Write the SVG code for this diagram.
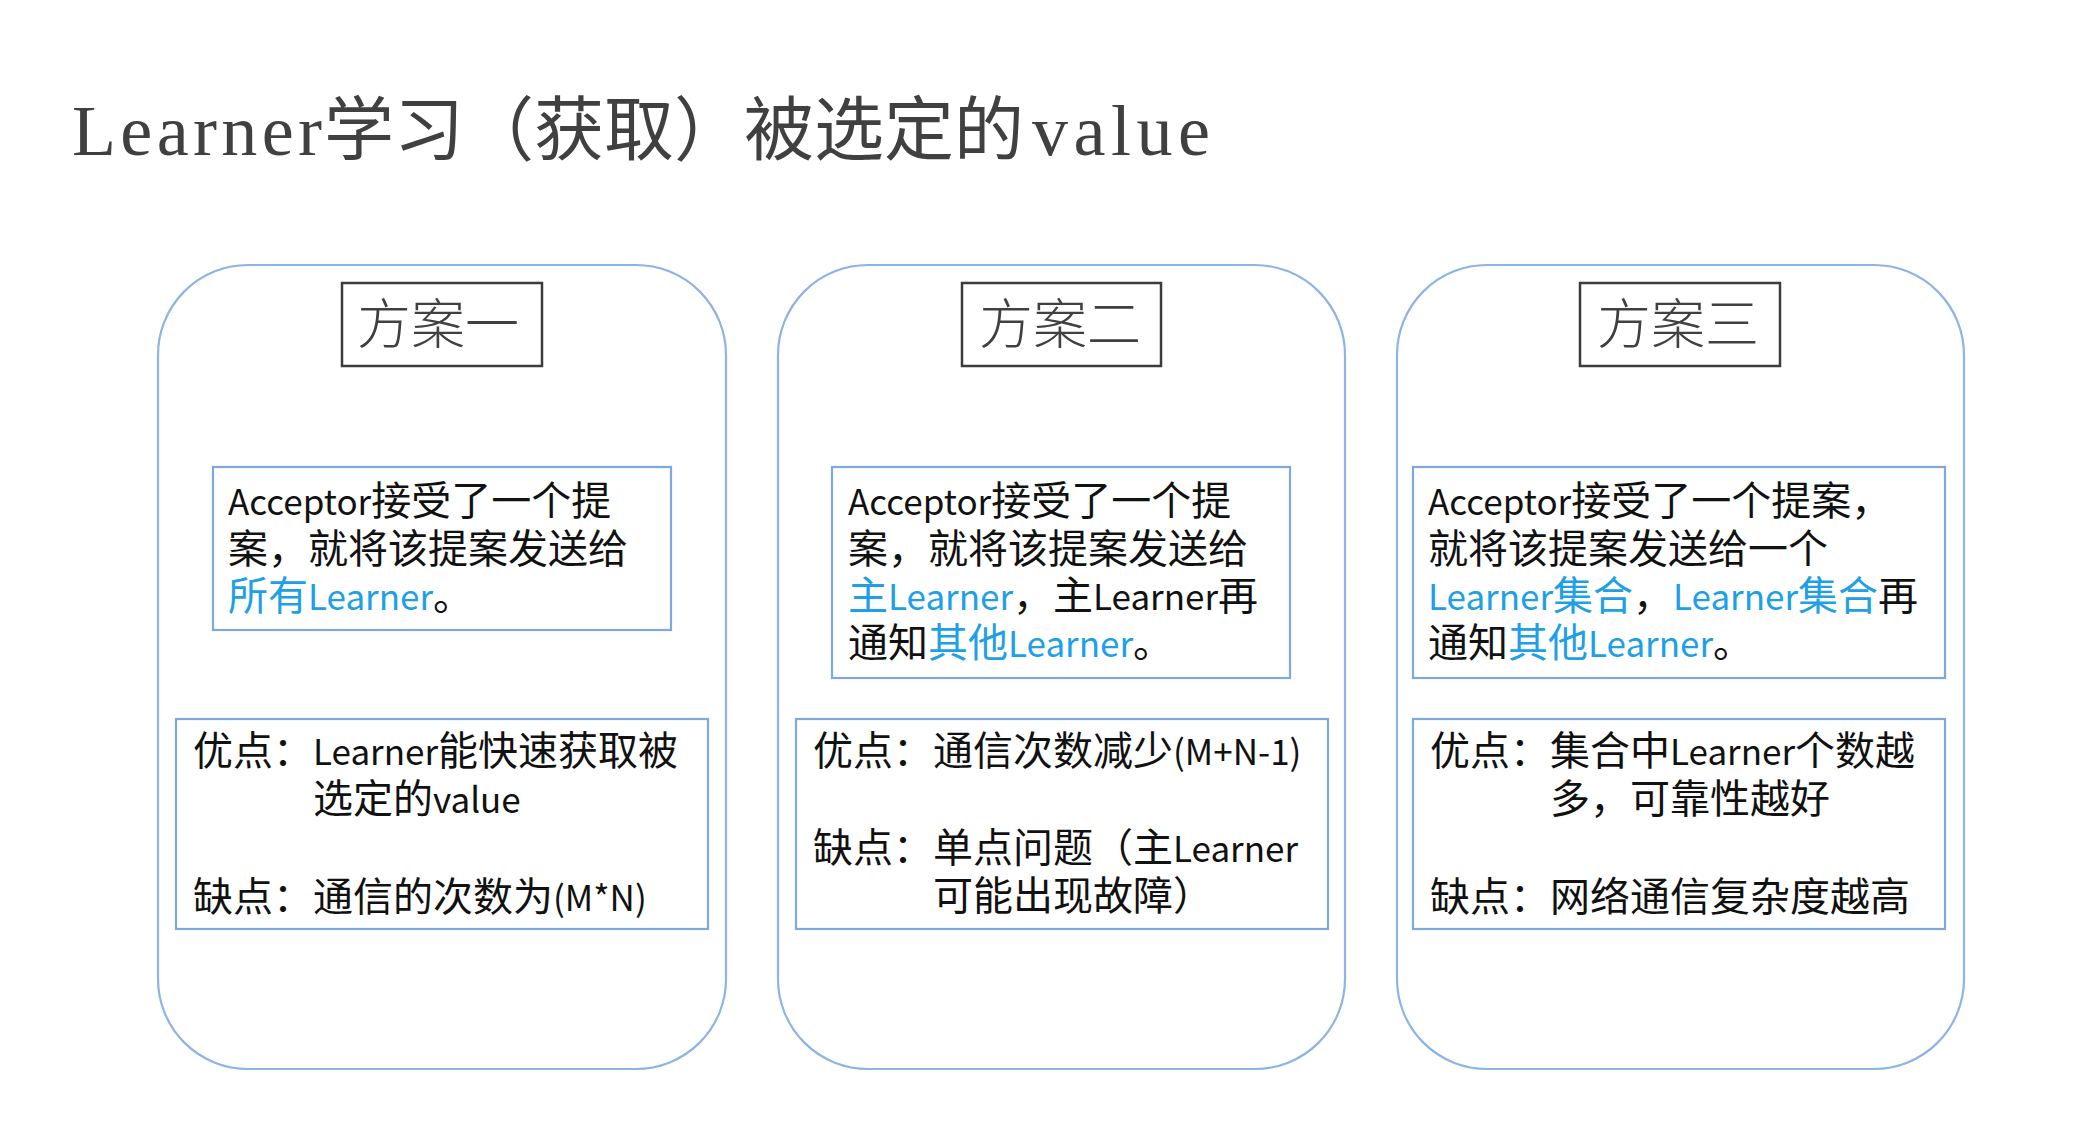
<svg xmlns="http://www.w3.org/2000/svg" width="2100" height="1122" viewBox="0 0 2100 1122">
<style>
.bg{fill:#ffffff}
.card{fill:#ffffff;stroke:#8db4e2;stroke-width:2.2}
.tbox{fill:#ffffff;stroke:#3c3c3c;stroke-width:2.5}
.ibox{fill:#ffffff;stroke:#7fa8dc;stroke-width:2.2}
.tt{font-family:"Noto Sans CJK SC","Noto Sans",sans-serif;font-size:54px;font-weight:300;fill:#404040}
.tx{font-family:"Noto Sans CJK SC","Noto Sans",sans-serif;font-size:40px;fill:#111111}
.la{font-size:35px}
.bl{fill:#1e9fe6}
.hm{font-family:"Liberation Serif",serif;font-size:72px;fill:#404040}
.hc{font-family:"Noto Sans CJK SC",serif;font-size:70px;fill:#404040}
</style>
<rect class="bg" x="0" y="0" width="2100" height="1122"/>
<g id="title">
<text class="hm" x="72" y="155" textLength="250" lengthAdjust="spacing">Learner</text>
<text class="hc" x="324" y="155">学习（获取）被选定的</text>
<text class="hm" x="1032" y="155" textLength="178" lengthAdjust="spacing">value</text>
</g>
<g id="card1">
<rect class="card" x="158" y="265" width="568" height="804" rx="90" ry="90"/>
<g id="card1-title">
<rect class="tbox" x="342" y="283" width="200" height="83"/>
<text class="tt" x="357" y="344">方案一</text>
</g>
<g id="card1-desc">
<rect class="ibox" x="213" y="467" width="458" height="163"/>
<text class="tx" x="228" y="515"><tspan class="la">Acceptor</tspan>接受了一个提</text>
<text class="tx" x="228" y="563">案，就将该提案发送给</text>
<text class="tx" x="228" y="610"><tspan class="bl">所有<tspan class="la">Learner</tspan></tspan>。</text>
</g>
<g id="card1-pros">
<rect class="ibox" x="176" y="719" width="532" height="210"/>
<text class="tx" x="193" y="765">优点：</text>
<text class="tx" x="313" y="765"><tspan class="la">Learner</tspan>能快速获取被</text>
<text class="tx" x="313" y="813">选定的<tspan class="la">value</tspan></text>
<text class="tx" x="193" y="911">缺点：</text>
<text class="tx" x="313" y="911">通信的次数为<tspan class="la">(M*N)</tspan></text>
</g>
</g>
<g id="card2">
<rect class="card" x="778" y="265" width="567" height="804" rx="90" ry="90"/>
<g id="card2-title">
<rect class="tbox" x="962" y="283" width="199" height="83"/>
<text class="tt" x="979" y="344">方案二</text>
</g>
<g id="card2-desc">
<rect class="ibox" x="832" y="467" width="458" height="211"/>
<text class="tx" x="848" y="515"><tspan class="la">Acceptor</tspan>接受了一个提</text>
<text class="tx" x="848" y="563">案，就将该提案发送给</text>
<text class="tx" x="848" y="610"><tspan class="bl">主<tspan class="la">Learner</tspan></tspan>，主<tspan class="la">Learner</tspan>再</text>
<text class="tx" x="848" y="657">通知<tspan class="bl">其他<tspan class="la">Learner</tspan></tspan>。</text>
</g>
<g id="card2-pros">
<rect class="ibox" x="796" y="719" width="532" height="210"/>
<text class="tx" x="813" y="765">优点：</text>
<text class="tx" x="933" y="765">通信次数减少<tspan class="la">(M+N-1)</tspan></text>
<text class="tx" x="813" y="862">缺点：</text>
<text class="tx" x="933" y="862">单点问题（主<tspan class="la">Learner</tspan></text>
<text class="tx" x="933" y="910">可能出现故障）</text>
</g>
</g>
<g id="card3">
<rect class="card" x="1397" y="265" width="567" height="804" rx="90" ry="90"/>
<g id="card3-title">
<rect class="tbox" x="1580" y="283" width="200" height="83"/>
<text class="tt" x="1597" y="344">方案三</text>
</g>
<g id="card3-desc">
<rect class="ibox" x="1413" y="467" width="532" height="211"/>
<text class="tx" x="1428" y="515"><tspan class="la">Acceptor</tspan>接受了一个提案，</text>
<text class="tx" x="1428" y="563">就将该提案发送给一个</text>
<text class="tx" x="1428" y="610"><tspan class="bl"><tspan class="la">Learner</tspan>集合</tspan>，<tspan class="bl"><tspan class="la">Learner</tspan>集合</tspan>再</text>
<text class="tx" x="1428" y="657">通知<tspan class="bl">其他<tspan class="la">Learner</tspan></tspan>。</text>
</g>
<g id="card3-pros">
<rect class="ibox" x="1413" y="719" width="532" height="210"/>
<text class="tx" x="1430" y="765">优点：</text>
<text class="tx" x="1550" y="765">集合中<tspan class="la">Learner</tspan>个数越</text>
<text class="tx" x="1550" y="813">多，可靠性越好</text>
<text class="tx" x="1430" y="911">缺点：</text>
<text class="tx" x="1550" y="911">网络通信复杂度越高</text>
</g>
</g>
</svg>
